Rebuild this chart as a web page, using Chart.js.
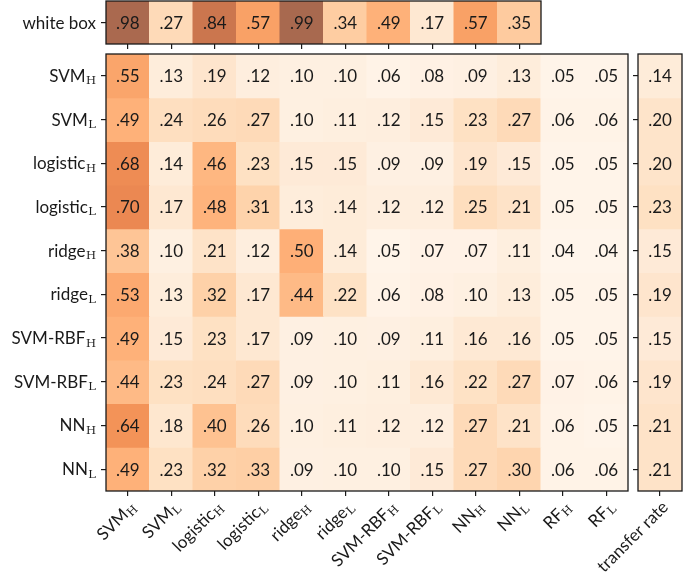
<!DOCTYPE html>
<html>
<head>
<meta charset="utf-8">
<script src="https://cdn.jsdelivr.net/npm/chart.js@4/dist/chart.umd.min.js"></script>
<style>
  body { margin: 0; background: #fff; }
  #wrap { position: relative; width: 698px; height: 586px; }
  canvas { position: absolute; left: 0; top: 0; }
</style>
</head>
<body>
<div id="wrap">
  <canvas id="topChart" width="698" height="586"></canvas>
  <canvas id="mainChart" width="698" height="586"></canvas>
  <canvas id="rateChart" width="698" height="586"></canvas>
</div>
<script>
// "_" marks the subscript part of a label
const colLabels = ["SVM_H", "SVM_L", "logistic_H", "logistic_L", "ridge_H", "ridge_L",
  "SVM-RBF_H", "SVM-RBF_L", "NN_H", "NN_L", "RF_H", "RF_L"];
const rowLabels = ["SVM_H", "SVM_L", "logistic_H", "logistic_L", "ridge_H", "ridge_L",
  "SVM-RBF_H", "SVM-RBF_L", "NN_H", "NN_L"];

const whiteBox = [.98, .27, .84, .57, .99, .34, .49, .17, .57, .35];

const svmH      = [.55, .13, .19, .12, .10, .10, .06, .08, .09, .13, .05, .05];
const svmL      = [.49, .24, .26, .27, .10, .11, .12, .15, .23, .27, .06, .06];
const logisticH = [.68, .14, .46, .23, .15, .15, .09, .09, .19, .15, .05, .05];
const logisticL = [.70, .17, .48, .31, .13, .14, .12, .12, .25, .21, .05, .05];
const ridgeH    = [.38, .10, .21, .12, .50, .14, .05, .07, .07, .11, .04, .04];
const ridgeL    = [.53, .13, .32, .17, .44, .22, .06, .08, .10, .13, .05, .05];
const rbfH      = [.49, .15, .23, .17, .09, .10, .09, .11, .16, .16, .05, .05];
const rbfL      = [.44, .23, .24, .27, .09, .10, .11, .16, .22, .27, .07, .06];
const nnH       = [.64, .18, .40, .26, .10, .11, .12, .12, .27, .21, .06, .05];
const nnL       = [.49, .23, .32, .33, .09, .10, .10, .15, .27, .30, .06, .06];

const transferRate = [.14, .20, .20, .23, .15, .19, .15, .19, .21, .21];

const FONT = "Lato, 'Liberation Sans', sans-serif";
const SUB_FONT = "'DejaVu Serif', 'Liberation Serif', serif";
const INK = "#1a1a1a";

// matplotlib Oranges, alpha 0.7 over white
const stops = ["#fff5eb", "#fee6ce", "#fdd0a2", "#fdae6b", "#fd8d3c", "#f16913", "#d94801", "#a63603", "#7f2704"]
  .map(h => [1, 3, 5].map(i => parseInt(h.substr(i, 2), 16)));
function oranges(v) {
  const t = Math.max(0, Math.min(1, v)) * 8;
  const i = Math.min(7, Math.floor(t)), f = t - i;
  const c = [0, 1, 2].map(k => stops[i][k] + (stops[i + 1][k] - stops[i][k]) * f);
  return "rgb(" + c.map(x => Math.round(0.7 * x + 0.3 * 255)).join(",") + ")";
}

function drawLabel(ctx, text, x, y, align) {
  const [base, sub] = text.split("_");
  ctx.font = "17px " + FONT;
  const wb = ctx.measureText(base).width;
  let ws = 0;
  if (sub) { ctx.font = "11.5px " + SUB_FONT; ws = ctx.measureText(sub).width + 0.5; }
  const total = wb + ws;
  const x0 = align === "right" ? x - total : x - total / 2;
  ctx.textAlign = "left";
  ctx.textBaseline = "alphabetic";
  ctx.fillStyle = INK;
  ctx.font = "17px " + FONT;
  ctx.fillText(base, x0, y);
  if (sub) {
    ctx.font = "11.5px " + SUB_FONT;
    ctx.fillText(sub, x0 + wb + 0.5, y + 2.5);
  }
}

function heatmap(id, cols, rows, matrix, area, opts) {
  const datasets = matrix.map((vals, r) => ({
    label: rows[r] || "",
    data: vals.map(() => 1),
    values: vals,
    backgroundColor: vals.map(oranges),
    borderWidth: 0,
    barPercentage: 1,
    categoryPercentage: 1,
    inflateAmount: 0.5
  }));

  const tickGrid = { drawOnChartArea: false, drawTicks: true, tickLength: 5, color: INK, lineWidth: 1.2 };

  return new Chart(document.getElementById(id), {
    type: "bar",
    data: { labels: cols.map((c, i) => c || ("c" + i)), datasets },
    options: {
      responsive: false,
      animation: false,
      events: [],
      layout: { padding: { left: area.left, top: area.top, right: 698 - area.right, bottom: 586 - area.bottom } },
      plugins: { legend: { display: false }, tooltip: { enabled: false } },
      scales: {
        x: {
          stacked: true,
          offset: true,
          grid: Object.assign({}, tickGrid, { offset: false, display: opts.xTicks }),
          border: { display: false },
          ticks: { display: false },
          afterFit: s => { s.height = 0; }
        },
        y: {
          stacked: true,
          min: 0,
          max: matrix.length,
          reverse: true,
          grid: Object.assign({}, tickGrid, { display: opts.yTicks }),
          border: { display: false },
          ticks: { display: false },
          afterBuildTicks: s => { s.ticks = matrix.map((_, i) => ({ value: i + 0.5 })); },
          afterFit: s => { s.width = 0; }
        }
      }
    },
    plugins: [{
      id: "cells",
      afterDatasetsDraw(chart) {
        const ctx = chart.ctx;
        ctx.save();
        ctx.font = "17px " + FONT;
        ctx.fillStyle = INK;
        ctx.textAlign = "center";
        ctx.textBaseline = "middle";
        chart.data.datasets.forEach((ds, d) => {
          chart.getDatasetMeta(d).data.forEach((bar, i) => {
            const txt = ds.values[i].toFixed(2).replace(/^0/, "");
            ctx.fillText(txt, bar.x, (bar.y + bar.base) / 2 + 1);
          });
        });
        ctx.restore();
      },
      afterDraw(chart) {
        const ctx = chart.ctx, a = chart.chartArea;
        ctx.save();
        ctx.strokeStyle = INK;
        ctx.lineWidth = 1.3;
        ctx.strokeRect(a.left, a.top, a.right - a.left, a.bottom - a.top);
        const ys = chart.scales.y, xs = chart.scales.x;
        rows.forEach((lab, i) => {
          if (!lab) return;
          drawLabel(ctx, lab, a.left - 10, ys.getPixelForValue(i + 0.5) + 6, "right");
        });
        if (opts.xLabels) {
          cols.forEach((lab, i) => {
            ctx.save();
            ctx.translate(xs.getPixelForValue(i), a.bottom + 8);
            ctx.rotate(-Math.PI / 4);
            drawLabel(ctx, lab, 0, 13, "right");
            ctx.restore();
          });
        }
        ctx.restore();
      }
    }]
  });
}

const mainMatrix = [svmH, svmL, logisticH, logisticL, ridgeH, ridgeL, rbfH, rbfL, nnH, nnL];

heatmap("topChart", colLabels.slice(0, whiteBox.length), ["white box"], [whiteBox],
  { left: 106, top: 1, right: 541, bottom: 44 }, { xTicks: true, yTicks: true, xLabels: false });

heatmap("mainChart", colLabels, rowLabels, mainMatrix,
  { left: 106, top: 54, right: 628, bottom: 491 }, { xTicks: true, yTicks: true, xLabels: true });

heatmap("rateChart", ["transfer rate"], rowLabels.map(() => ""), transferRate.map(v => [v]),
  { left: 638, top: 54, right: 682, bottom: 491 }, { xTicks: true, yTicks: true, xLabels: true });
</script>
</body>
</html>
